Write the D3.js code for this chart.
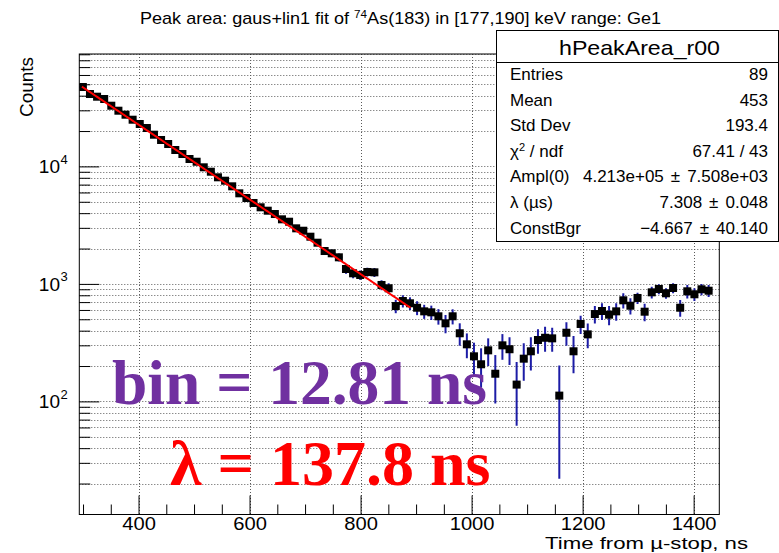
<!DOCTYPE html>
<html><head><meta charset="utf-8">
<script src="https://cdn.jsdelivr.net/npm/d3@7"></script>
<style>
body{margin:0;background:#fff;}
svg{display:block;}
text{font-family:"Liberation Sans",Arial,Helvetica,sans-serif;fill:#000;}
</style>
</head><body>
<svg id="c" width="779" height="553"></svg>
<script>
// ---------------- data ----------------
const binWidth = 12.81;            // ns
const xDomain = [293.3, 1446.2];   // ns
const yDomain = [10.9, 90500];     // counts (log)
const counts = [
 47390, 41320, 39200, 37470, 32850, 29790, 27540, 24970, 22960, 21220,
 18610, 16780, 15510, 13790, 12750, 11560, 10960, 9825, 9013, 8077,
 7556, 6770, 5902, 5383, 4882, 4486, 4198, 3934, 3546, 3383,
 2972, 2835, 2522, 2242, 1905, 1822, 1684, 1339, 1231, 1191,
 1263, 1255, 979, 918, 648, 715, 684, 627, 584, 573,
 530, 462, 530, 380, 306, 242, 207, 272, 172, 300,
 278, 139, 231, 267, 333, 348, 344, 112, 384, 267,
 456, 372, 554, 588, 547, 584, 725, 652, 759, 580,
 848, 905, 832, 923, 627, 865, 816, 900, 875
];
const errors = [
 900, 850, 820, 800, 760, 720, 690, 660, 630, 600,
 450, 430, 420, 400, 380, 360, 350, 330, 310, 300,
 290, 270, 250, 240, 230, 220, 210, 200, 190, 180,
 160, 155, 150, 145, 140, 135, 130, 120, 115, 110,
 110, 110, 95, 95, 85, 85, 85, 85, 80, 80,
 80, 82, 78, 82, 73, 74, 76, 72, 76, 74,
 74, 77, 81, 84, 78, 84, 79, 90, 87, 93,
 81, 89, 94, 96, 102, 99, 107, 102, 83, 99,
 98, 87, 86, 89, 102, 113, 102, 98, 103
];
const xMajorTicks = [400, 600, 800, 1000, 1200, 1400];
const xMinorTicks = [300,350,450,500,550,650,700,750,850,900,950,1050,1100,1150,1250,1300,1350];
const yMajorTicks = [100, 1000, 10000];
const yMajorExp = ["2", "3", "4"];
const yMinorTicks = [20,30,40,50,60,70,80,90,200,300,400,500,600,700,800,900,
                     2000,3000,4000,5000,6000,7000,8000,9000,20000,30000,40000,50000,60000,70000,80000,90000];
// fit: Ampl * exp(-lambda * t) + ConstBgr, t in microseconds
const fitAmpl = 4.213e5, fitLambda = 7.308, fitConst = -4.667;
const fitRange = [298, 890];
const titleText = ["Peak area: gaus+lin1 fit of ", "74", "As(183) in [177,190] keV range: Ge1"];
const statsTitle = "hPeakArea_r00";
const statsLabels = ["Entries", "Mean", "Std Dev", "χ2 / ndf", "Ampl(0)", "λ (µs)", "ConstBgr"];
const statsValues = [["89"], ["453"], ["193.4"], ["67.41 / 43"], ["4.213e+05", "7.508e+03"], ["7.308", "0.048"], ["−4.667", "40.140"]];
const xTitle = "Time from µ-stop, ns";
const yTitle = "Counts";
const note1 = "bin = 12.81 ns";
const note2 = "λ = 137.8 ns";

// ---------------- layout ----------------
const L = 79.3, R = 719.3, T = 54, B = 514.5;
const svg = d3.select("#c");
svg.append("rect").attr("width",779).attr("height",553).attr("fill","#fff");

const x = d3.scaleLinear().domain(xDomain).range([L, R]);
const y = d3.scaleLog().domain(yDomain).range([B, T]);

svg.append("defs").append("clipPath").attr("id","clip")
  .append("rect").attr("x",L).attr("y",T).attr("width",R-L).attr("height",B-T);

// grid
const grid = svg.append("g").attr("stroke","#5a5a5a").attr("stroke-width",1).attr("stroke-dasharray","1,2");
grid.selectAll("line.v").data(xMajorTicks).join("line")
  .attr("x1",d=>Math.round(x(d))+0.5).attr("x2",d=>Math.round(x(d))+0.5).attr("y1",T).attr("y2",B);
grid.selectAll("line.h").data(yMajorTicks.concat(yMinorTicks).filter(v=>v<yDomain[1])).join("line")
  .attr("x1",L).attr("x2",R).attr("y1",d=>Math.round(y(d))+0.5).attr("y2",d=>Math.round(y(d))+0.5);

// axes ticks (inward)
const yMinorAxis = d3.axisRight(y).tickValues(yMinorTicks.filter(v=>v<yDomain[1])).tickSize(11).tickFormat("");
const yMajorAxis = d3.axisRight(y).tickValues(yMajorTicks).tickSize(20).tickFormat("");
[yMinorAxis, yMajorAxis].forEach(a=>{
  const g = svg.append("g").attr("transform",`translate(${L},0)`).call(a);
  g.select(".domain").remove();
  g.selectAll("line").attr("stroke","#000");
});
const xMinorAxis = d3.axisTop(x).tickValues(xMinorTicks).tickSize(10).tickFormat("");
const xMajorAxis = d3.axisTop(x).tickValues(xMajorTicks).tickSize(19).tickFormat("");
[xMinorAxis, xMajorAxis].forEach(a=>{
  const g = svg.append("g").attr("transform",`translate(0,${B})`).call(a);
  g.select(".domain").remove();
  g.selectAll("line").attr("stroke","#000");
});
// x labels
const xLab = svg.append("g").attr("transform",`translate(0,${B})`)
  .call(d3.axisBottom(x).tickValues(xMajorTicks).tickSize(0).tickPadding(2).tickFormat(d3.format("d")));
xLab.select(".domain").remove();
xLab.selectAll("text").attr("font-size",19).attr("font-family","Liberation Sans, Arial, sans-serif").attr("fill","#000")
  .attr("textLength",d=>String(d).length*11.2).attr("lengthAdjust","spacingAndGlyphs");

// y labels 10^n
const yl = svg.append("g");
yMajorTicks.forEach((v,i)=>{
  const yy = y(v);
  yl.append("text").attr("x",60).attr("y",yy+7).attr("text-anchor","end").attr("font-size",19).text("10");
  yl.append("text").attr("x",60.5).attr("y",yy-2.5).attr("font-size",13).text(yMajorExp[i]);
});

// data
const pts = counts.map((c,i)=>({lo: xDomain[0]+i*binWidth, hi: xDomain[0]+(i+1)*binWidth,
  c: xDomain[0]+(i+0.5)*binWidth, v: c, e: errors[i]}));
const plot = svg.append("g").attr("clip-path","url(#clip)");
const eb = plot.append("g").attr("stroke","#1c1ca6").attr("stroke-width",2);
eb.selectAll("line.ey").data(pts).join("line")
  .attr("x1",d=>x(d.c)).attr("x2",d=>x(d.c))
  .attr("y1",d=>y(d.v+d.e))
  .attr("y2",d=>d.v-d.e>yDomain[0]? y(d.v-d.e) : B+2);
eb.selectAll("line.ex").data(pts).join("line")
  .attr("x1",d=>x(d.lo)).attr("x2",d=>x(d.hi))
  .attr("y1",d=>y(d.v)).attr("y2",d=>y(d.v));
const ms = 8;
plot.append("g").selectAll("rect").data(pts).join("rect")
  .attr("x",d=>x(d.c)-ms/2).attr("y",d=>y(d.v)-ms/2).attr("width",ms).attr("height",ms).attr("fill","#000");

// fit
const fitPts = d3.range(0,201).map(k=>{
  const t = fitRange[0] + (fitRange[1]-fitRange[0])*k/200;
  return [t, fitAmpl*Math.exp(-fitLambda*t/1000)+fitConst];
});
plot.append("path").datum(fitPts).attr("fill","none").attr("stroke","#ff0000").attr("stroke-width",2)
  .attr("d", d3.line().x(d=>x(d[0])).y(d=>y(d[1])));

// frame
svg.append("rect").attr("x",L).attr("y",T).attr("width",R-L).attr("height",B-T)
  .attr("fill","none").attr("stroke","#000").attr("stroke-width",1);

// titles
const tt = svg.append("text").attr("x",140).attr("y",24).attr("font-size",17)
  .attr("textLength",521).attr("lengthAdjust","spacingAndGlyphs");
tt.append("tspan").text(titleText[0]);
tt.append("tspan").attr("font-size",11).attr("dy",-6).text(titleText[1]);
tt.append("tspan").attr("dy",6).text(titleText[2]);

svg.append("text").attr("x",748).attr("y",549.2).attr("text-anchor","end").attr("font-size",17)
  .attr("textLength",203).attr("lengthAdjust","spacingAndGlyphs").text(xTitle);
svg.append("text").attr("transform","translate(33,57) rotate(-90)").attr("text-anchor","end").attr("font-size",19)
  .attr("textLength",60).attr("lengthAdjust","spacingAndGlyphs").text(yTitle);

// stats box
const sb = svg.append("g");
sb.append("rect").attr("x",496.5).attr("y",30.5).attr("width",282).attr("height",211)
  .attr("fill","#fff").attr("stroke","#000").attr("stroke-width",1);
sb.append("line").attr("x1",496.5).attr("x2",778.5).attr("y1",62.5).attr("y2",62.5).attr("stroke","#000");
sb.append("text").attr("x",559).attr("y",55).attr("font-size",21)
  .attr("textLength",161).attr("lengthAdjust","spacingAndGlyphs").text(statsTitle);
statsLabels.forEach((lab,i)=>{
  const by = 80 + i*25.6;
  const t = sb.append("text").attr("x",510).attr("y",by).attr("font-size",17);
  if (lab.startsWith("χ2")) {
    t.append("tspan").text("χ");
    t.append("tspan").attr("font-size",11).attr("dy",-6).text("2");
    t.append("tspan").attr("dy",6).text(" / ndf");
  } else t.text(lab);
  const v = sb.append("text").attr("x",768).attr("y",by).attr("text-anchor","end").attr("font-size",17);
  const parts = statsValues[i];
  if (parts.length === 2) {
    v.append("tspan").text(parts[0]);
    v.append("tspan").attr("dx",7).text("±");
    v.append("tspan").attr("dx",7).text(parts[1]);
  } else v.text(parts[0]);
});

// overlay notes
svg.append("text").attr("x",112).attr("y",404)
  .attr("font-weight","bold").attr("font-size",63.5).style("font-family","'Liberation Serif','Times New Roman',serif")
  .style("fill","#7030a0").text(note1);
svg.append("text").attr("x",170).attr("y",485)
  .attr("font-weight","bold").attr("font-size",64).style("font-family","'Liberation Serif','Times New Roman',serif")
  .style("fill","#ff0000").text(note2);
</script>
</body></html>
